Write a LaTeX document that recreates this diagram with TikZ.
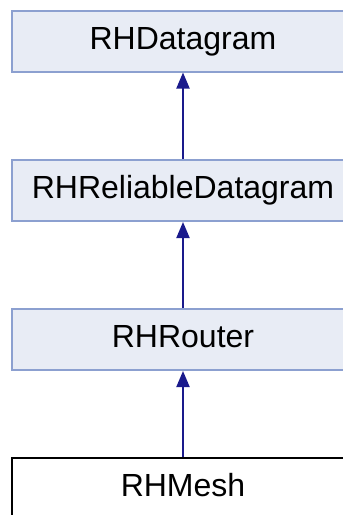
\documentclass[tikz,border=0pt]{standalone}
\usepackage{fontspec}
\setmainfont{Liberation Sans}
\usetikzlibrary{arrows.meta}
\definecolor{boxfill}{RGB}{232,236,245}
\definecolor{boxline}{RGB}{140,160,208}
\definecolor{edgeblue}{RGB}{26,26,140}
\tikzset{
  cls/.style={draw=boxline, fill=boxfill, line width=2pt, minimum width=343pt,
    minimum height=61pt, inner sep=0pt, font=\fontsize{32pt}{36pt}\selectfont,
    text height=23pt, text depth=6.7pt},
  leaf/.style={cls, draw=black, fill=white},
  inherit/.style={draw=edgeblue, line width=2pt, -{Triangle[length=16pt,width=13pt]}}
}
\begin{document}
\begin{tikzpicture}[x=1pt,y=-1pt]
\useasboundingbox (0,0) rectangle (343,515);
\clip (0,0) rectangle (343,515);
\node[cls] (d) at (183,41) {RHDatagram};
\node[cls] (r) at (183,190.5) {RHReliableDatagram};
\node[cls] (rt) at (183,339.5) {RHRouter};
\node[leaf] (m) at (183,488.5) {RHMesh};
\draw[inherit] (r.north) -- (d.south);
\draw[inherit] (rt.north) -- (r.south);
\draw[inherit] (m.north) -- (rt.south);
\end{tikzpicture}
\end{document}
